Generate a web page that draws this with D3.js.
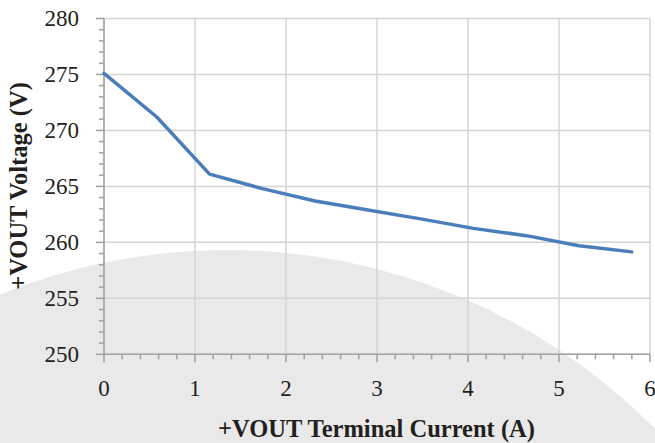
<!DOCTYPE html>
<html><head><meta charset="utf-8">
<script src="https://cdn.jsdelivr.net/npm/d3@7"></script>
<style>
html,body{margin:0;padding:0;background:#fff;}
svg{display:block;}
</style></head>
<body>
<svg id="chart" width="655" height="443"></svg>
<script>
// Data
const current = [0, 0.58, 1.16, 1.74, 2.32, 2.9, 3.48, 4.06, 4.64, 5.22, 5.8];
const voltage = [275.1, 271.2, 266.1, 264.8, 263.7, 262.9, 262.1, 261.25, 260.6, 259.7, 259.15];
const xTicks = [0, 1, 2, 3, 4, 5, 6];
const yTicks = [250, 255, 260, 265, 270, 275, 280];
const xTitle = "+VOUT Terminal Current (A)";
const yTitle = "+VOUT Voltage (V)";

const FONT = "Liberation Serif";
const svg = d3.select("#chart");
const W = 655, H = 443;
const m = {left: 104, right: 5, top: 18.5, bottom: 88.7};

const x = d3.scaleLinear().domain([0, 6]).range([m.left, W - m.right]);
const y = d3.scaleLinear().domain([250, 280]).range([H - m.bottom, m.top]);

// background decorative circle
svg.append("circle").attr("cx", 227).attr("cy", 852).attr("r", 602).attr("fill", "#e9e9e9");

// gridlines
const grid = svg.append("g").attr("stroke", "#d4d4d4").attr("stroke-width", 1.5);
yTicks.forEach(v => grid.append("line").attr("x1", x(0)).attr("x2", x(6)).attr("y1", y(v)).attr("y2", y(v)));
xTicks.forEach(v => grid.append("line").attr("x1", x(v)).attr("x2", x(v)).attr("y1", y(250)).attr("y2", y(280)));

// axes
const axisColor = "#a3a3a3";
const yMinor = d3.range(250, 281, 1).filter(v => v % 5 !== 0);
const xMinor = d3.range(0, 31, 1).map(d => d / 5).filter(v => Math.abs(v - Math.round(v)) > 1e-6);

const ax = svg.append("g").attr("stroke", axisColor).attr("stroke-width", 1.6);
ax.append("line").attr("x1", x(0)).attr("x2", x(0)).attr("y1", y(280)).attr("y2", y(250));
ax.append("line").attr("x1", x(0)).attr("x2", x(6)).attr("y1", y(250)).attr("y2", y(250));
yTicks.forEach(v => ax.append("line").attr("x1", x(0) - 8).attr("x2", x(0)).attr("y1", y(v)).attr("y2", y(v)));
yMinor.forEach(v => ax.append("line").attr("x1", x(0) - 5).attr("x2", x(0)).attr("y1", y(v)).attr("y2", y(v)));
xTicks.forEach(v => ax.append("line").attr("x1", x(v)).attr("x2", x(v)).attr("y1", y(250)).attr("y2", y(250) + 8));
xMinor.forEach(v => ax.append("line").attr("x1", x(v)).attr("x2", x(v)).attr("y1", y(250)).attr("y2", y(250) + 5));

// tick labels
svg.append("g").selectAll("text").data(yTicks).join("text")
  .attr("font-family", FONT).attr("fill", "#231f20")
  .attr("x", 79).attr("y", d => y(d)).attr("dy", "0.34em")
  .attr("text-anchor", "end").attr("font-size", 23).text(d => d);
svg.append("g").selectAll("text").data(xTicks).join("text")
  .attr("font-family", FONT).attr("fill", "#231f20")
  .attr("x", d => x(d)).attr("y", 396)
  .attr("text-anchor", "middle").attr("font-size", 23).text(d => d);

// line
const line = d3.line().x((d, i) => x(current[i])).y(d => y(d));
svg.append("path").datum(voltage).attr("d", line)
  .attr("fill", "none").attr("stroke", "#4a7ebb").attr("stroke-width", 3.5)
  .attr("stroke-linejoin", "round").attr("stroke-linecap", "round");

// titles
svg.append("text").attr("x", 376.5).attr("y", 436.5).attr("text-anchor", "middle")
  .attr("font-family", FONT).attr("fill", "#231f20")
  .attr("font-size", 24.5).attr("font-weight", "bold").text(xTitle);
svg.append("text").attr("transform", "translate(27,186) rotate(-90)").attr("text-anchor", "middle")
  .attr("font-family", FONT).attr("fill", "#231f20")
  .attr("font-size", 24.5).attr("font-weight", "bold").text(yTitle);
</script>
</body></html>
